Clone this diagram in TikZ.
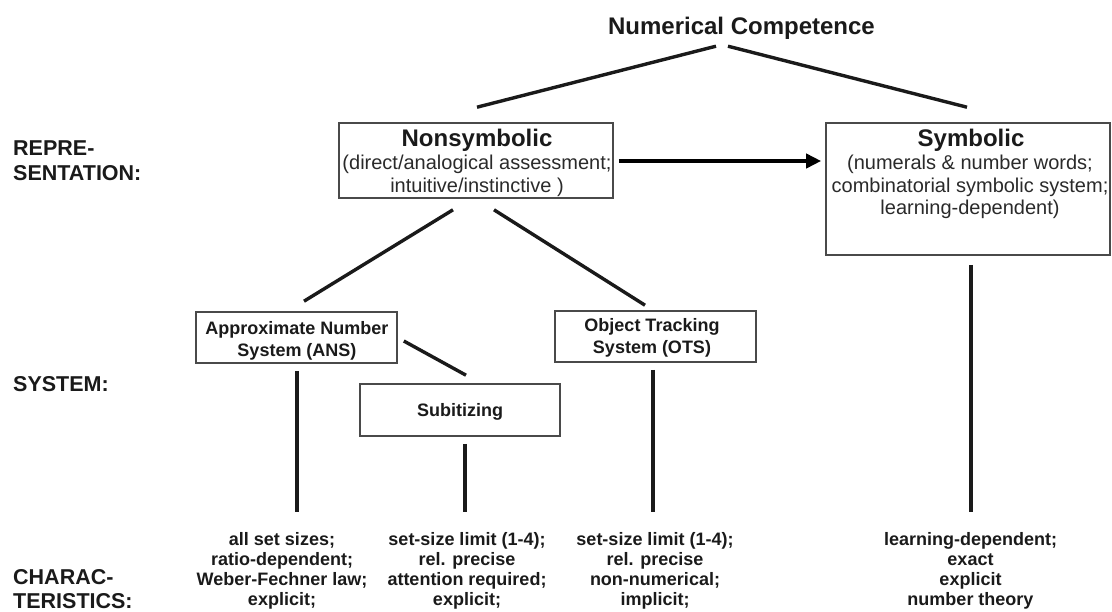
\documentclass[tikz,border=0pt]{standalone}
\usepackage{fontspec}
\setmainfont{Liberation Sans}
\usetikzlibrary{arrows.meta,calc}

\definecolor{ink}{HTML}{1A1A1A}
\definecolor{boxline}{HTML}{4A4A4A}
\definecolor{bodytext}{HTML}{2A2A2A}

\tikzset{
  boxnode/.style={draw=boxline, line width=1.6pt, inner sep=0pt},
  link/.style={draw=ink, line width=3.4pt},
  flow/.style={draw=black, line width=4.2pt, -{Triangle[length=15pt,width=14pt]}},
  rowlabel/.style={font=\fontsize{21.5}{25}\selectfont\bfseries, text=ink, anchor=west, align=left, inner sep=0pt},
  headtext/.style={font=\fontsize{24}{26}\selectfont\bfseries, text=ink, inner sep=0pt},
  bodytxt/.style={font=\fontsize{20}{22.5}\selectfont, text=bodytext, align=center, inner sep=0pt},
  systext/.style={font=\fontsize{18}{22}\selectfont\bfseries, text=ink, align=center, inner sep=0pt},
  chartext/.style={font=\fontsize{18}{20}\selectfont\bfseries, text=ink, align=center, inner sep=0pt},
}

\begin{document}
\begin{tikzpicture}[x=1pt, y=-1pt]
\useasboundingbox (0,0) rectangle (1112,611);

% row labels on the left
\node[rowlabel] (lblrep)  at (13,160.5) {REPRE-\\SENTATION:};
\node[rowlabel] (lblsys)  at (13,384)   {SYSTEM:};
\node[rowlabel, font=\fontsize{21.5}{23.5}\selectfont\bfseries] (lblchar) at (13,589) {CHARAC-\\TERISTICS:};

% top of the hierarchy
\node[headtext] (title) at (741.5,28.4) {Numerical Competence};

% representation level
\node[boxnode, minimum width=274pt, minimum height=75pt] (nonsym) at (476,160.5) {};
\node[headtext] (nonsymhead) at (477,140.3) {Nonsymbolic};
\node[bodytxt] (nonsymbody) at (477,176) {(direct/analogical assessment;\\intuitive/instinctive )};

\node[boxnode, minimum width=284pt, minimum height=132pt] (sym) at (968,189) {};
\node[headtext] (symhead) at (971,140.3) {Symbolic};
\node[bodytxt] (symbody) at (970,187.3) {(numerals \& number words;\\combinatorial symbolic system;\\learning-dependent)};

% system level
\node[boxnode, minimum width=201pt, minimum height=51pt] (ans) at (296.5,337.5) {};
\node[systext] (anstext) at (297,340.9) {Approximate Number\\System (ANS)};
\node[boxnode, minimum width=200pt, minimum height=52pt] (sub) at (460,410) {};
\node[systext] (subtext) at (460,411.9) {Subitizing};
\node[boxnode, minimum width=201pt, minimum height=51pt] (ots) at (655.5,336.5) {};
\node[systext] (otstext) at (652,337.9) {Object Tracking\\System (OTS)};

% characteristics level
\node[chartext] (anschar) at (282,571) {all set sizes;\\ratio-dependent;\\Weber-Fechner law;\\explicit;};
\node[chartext] (subchar) at (467,571) {set-size limit (1-4);\\rel. precise\\attention required;\\explicit;};
\node[chartext] (otschar) at (655,571) {set-size limit (1-4);\\rel. precise\\non-numerical;\\implicit;};
\node[chartext] (symchar) at (970.5,571) {learning-dependent;\\exact\\explicit\\number theory};

% connectors
\draw[link] ($(title.south)+(-25.5,6.4)$) -- ($(nonsym.north)+(1,-15)$);
\draw[link] ($(title.south)+(-13.5,6.4)$) -- ($(sym.north)+(-1,-15)$);
\draw[flow] ($(nonsym.east)+(5,0.5)$) -- ($(sym.west |- nonsym.east)+(-4,0.5)$);
\draw[link] ($(nonsym.south)+(-23,11)$) -- ($(ans.north)+(7.5,-10)$);
\draw[link] ($(nonsym.south)+(18,11)$) -- ($(ots.north)+(-10.5,-5)$);
\draw[link] ($(ans.east)+(6,3.5)$) -- ($(sub.north)+(6,-8)$);
\draw[link] ($(ans.south)+(0.5,7)$) -- ($(ans.south |- anschar.north)+(0.5,-20)$);
\draw[link] ($(sub.south)+(5,7)$) -- ($(sub.south |- subchar.north)+(5,-20)$);
\draw[link] ($(ots.south)+(-2.5,7)$) -- ($(ots.south |- otschar.north)+(-2.5,-20)$);
\draw[link] ($(sym.south)+(3,9)$) -- ($(sym.south |- symchar.north)+(3,-20)$);
\end{tikzpicture}
\end{document}
